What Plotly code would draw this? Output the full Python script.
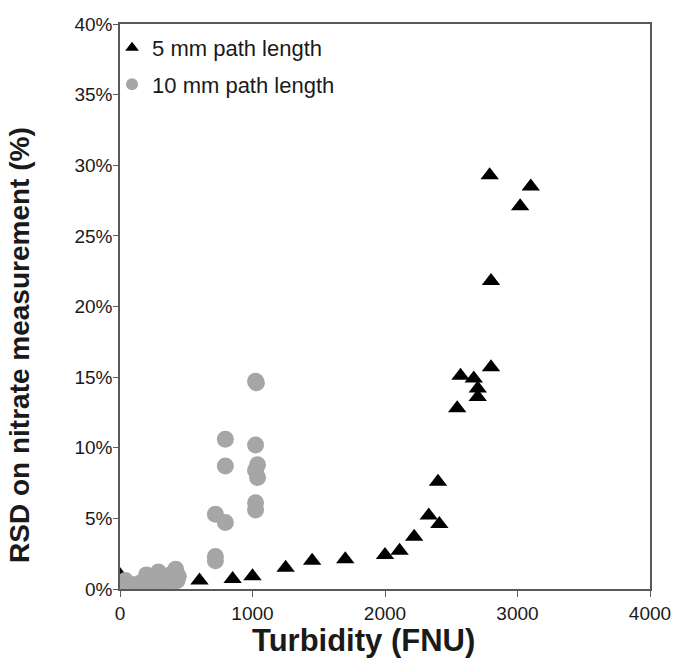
import plotly.graph_objects as go

# 5 mm path length: turbidity (FNU) and RSD (%)
turb_5mm = [0, 0, 250, 600, 850, 1000, 1250, 1450, 1700, 2000, 2110, 2220, 2330,
            2410, 2400, 2545, 2570, 2670, 2700, 2700, 2800, 2800, 2790, 3020, 3100]
rsd_5mm = [1.0, 0.5, 0.3, 0.6, 0.7, 0.9, 1.5, 2.0, 2.1, 2.4, 2.7, 3.7, 5.2,
           4.6, 7.6, 12.8, 15.1, 14.9, 14.2, 13.6, 15.7, 21.8, 29.3, 27.1, 28.5]

# 10 mm path length
turb_10mm = [20, 40, 100, 150, 200, 220, 260, 290, 320, 360, 380, 420, 430, 440, 300,
             720, 720, 720, 795, 795, 795, 1023, 1030, 1023, 1038, 1023, 1038, 1023, 1023]
rsd_10mm = [0.4, 0.6, 0.3, 0.4, 1.0, 0.5, 0.7, 1.2, 0.6, 0.3, 1.0, 1.4, 0.6, 0.9, 0.4,
            5.3, 2.3, 2.0, 10.6, 8.7, 4.7, 14.7, 14.6, 10.2, 8.8, 8.4, 7.9, 6.1, 5.6]

x_ticks = [0, 1000, 2000, 3000, 4000]
y_ticks = [0, 5, 10, 15, 20, 25, 30, 35, 40]
y_labels = [f"{v}%" for v in y_ticks]

x_title = "Turbidity (FNU)"
y_title = "RSD on nitrate measurement (%)"

FONT = "Liberation Sans, Arial, sans-serif"
AXIS_COLOR = "#595959"

fig = go.Figure()
fig.add_trace(go.Scatter(
    x=turb_5mm, y=rsd_5mm, mode="markers", name="5 mm path length",
    legendgroup="a",
    marker=dict(symbol="triangle-up", size=16, color="black"),
))
fig.add_trace(go.Scatter(
    x=turb_10mm, y=rsd_10mm, mode="markers", name="10 mm path length",
    legendgroup="b",
    marker=dict(symbol="circle", size=17, color="#A6A6A6"),
))

# axis titles placed as annotations so they can sit off-centre
fig.add_annotation(
    text=f"<b>{x_title}</b>", xref="paper", yref="paper",
    x=0.4585, y=-0.057, xanchor="center", yanchor="top",
    showarrow=False, font=dict(size=31, color="#1a1a1a"),
)
fig.add_annotation(
    text=f"<b>{y_title}</b>", xref="paper", yref="paper",
    x=-0.1887, y=0.432, xanchor="center", yanchor="middle", textangle=-90,
    showarrow=False, font=dict(size=28, color="#1a1a1a"),
)

fig.update_layout(
    width=676, height=659,
    margin=dict(l=120, r=26, t=24, b=70),
    paper_bgcolor="white", plot_bgcolor="white",
    font=dict(family=FONT, size=19, color="#1a1a1a"),
    showlegend=True,
    legend=dict(x=-0.015, y=0.995, xanchor="left", yanchor="top",
                bgcolor="rgba(0,0,0,0)", font=dict(size=22),
                itemsizing="constant", tracegroupgap=5),
    xaxis=dict(
        range=[0, 4000], tickvals=x_ticks, ticks="outside", ticklen=6,
        tickcolor=AXIS_COLOR, showline=True, linecolor=AXIS_COLOR, linewidth=1.5,
        mirror=True, showgrid=False, zeroline=False, automargin=False,
    ),
    yaxis=dict(
        range=[0, 40], tickvals=y_ticks, ticktext=y_labels, ticks="outside",
        ticklen=5, tickcolor=AXIS_COLOR, showline=True, linecolor=AXIS_COLOR,
        linewidth=1.5, mirror=True, showgrid=False, zeroline=False, automargin=False,
        ticklabelstandoff=-3,
    ),
)

fig.write_html("out.html")
